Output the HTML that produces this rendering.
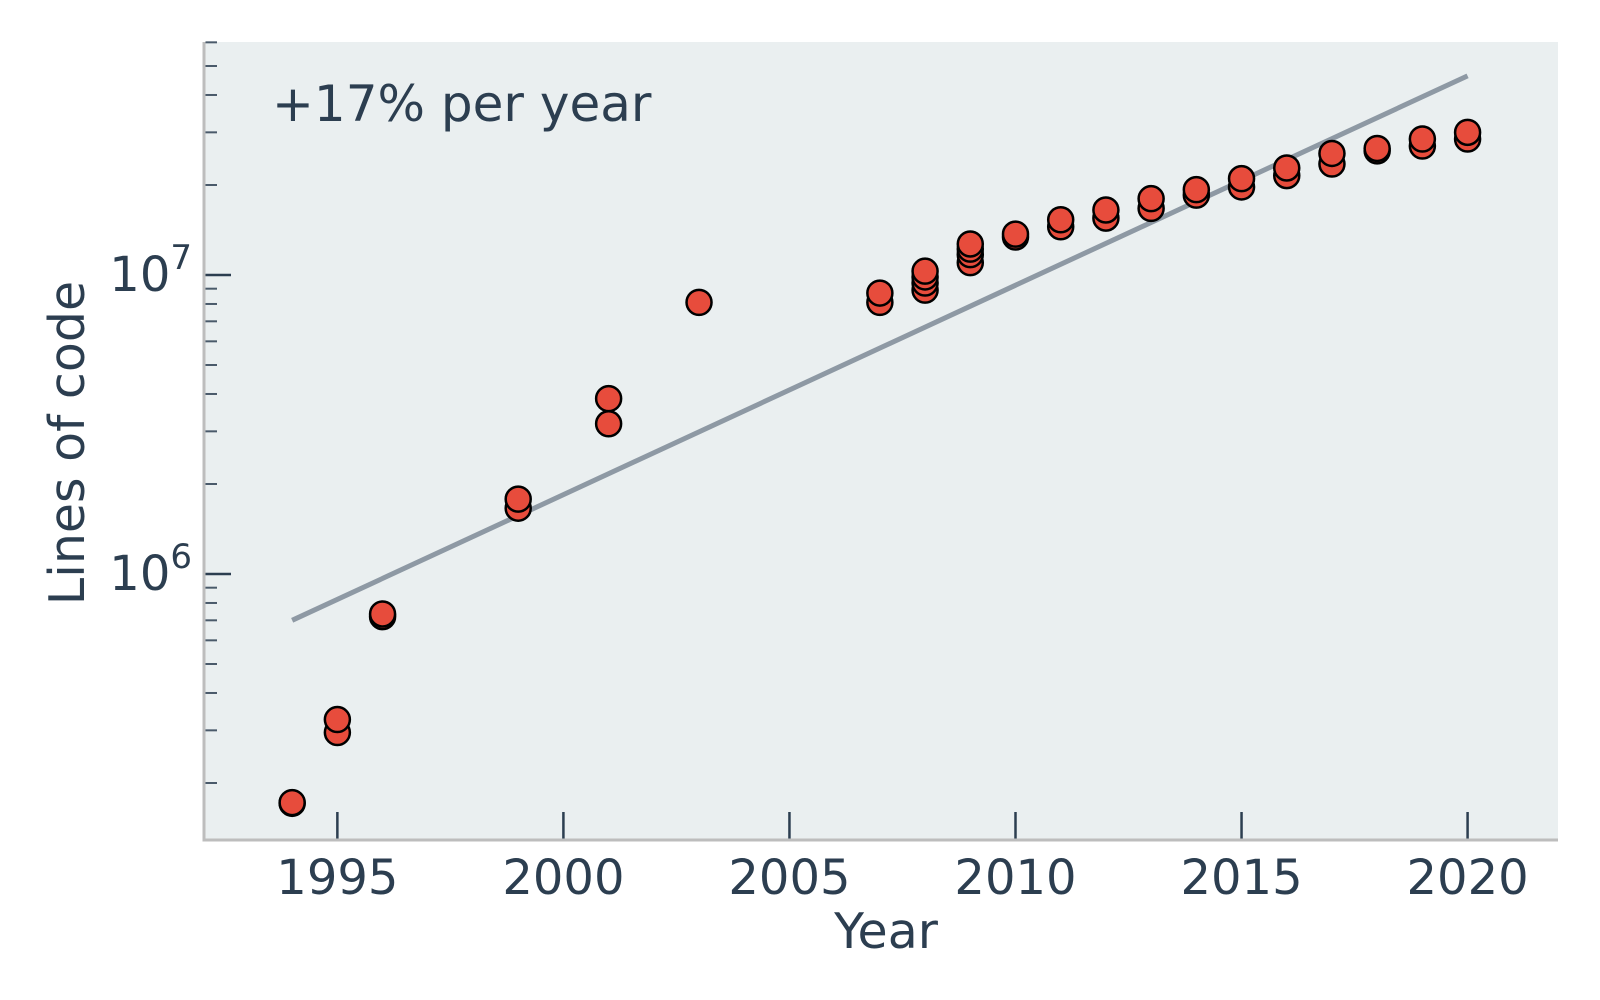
<!DOCTYPE html>
<html><head><meta charset="utf-8"><style>
html,body{margin:0;padding:0;background:#fff;}
svg{display:block;font-family:"DejaVu Sans","Liberation Sans",sans-serif;}
</style></head><body>
<svg id="chart" width="1600" height="1000" viewBox="0 0 1600 1000">
<rect x="0" y="0" width="1600" height="1000" fill="#fff"/>
<rect id="plotbg" fill="#eaeff0"/>
<g id="grid"></g>
<g id="fitg"></g>
<g id="pts"></g>
<g id="axes"></g>
<text x="272" y="121" font-size="50" fill="#2c3e50">+17% per year</text>
<text x="886" y="948" font-size="49" fill="#2c3e50" text-anchor="middle">Year</text>
<text transform="translate(84,443) rotate(-90)" font-size="49" fill="#2c3e50" text-anchor="middle">Lines of code</text>
</svg>
<script>
const years = [1994,1994,1995,1995,1996,1996,1999,1999,2001,2001,2003,2007,2007,2008,2008,2008,2008,2009,2009,2009,2009,2010,2010,2011,2011,2012,2012,2013,2013,2014,2014,2015,2015,2016,2016,2017,2017,2018,2018,2019,2019,2020,2020];
const lines = [1.71e5,1.72e5,2.95e5,3.26e5,7.2e5,7.35e5,1.66e6,1.78e6,3.18e6,3.86e6,8.1e6,8.1e6,8.7e6,8.9e6,9.4e6,9.85e6,1.03e7,1.10e7,1.17e7,1.22e7,1.27e7,1.34e7,1.37e7,1.45e7,1.53e7,1.55e7,1.65e7,1.67e7,1.80e7,1.85e7,1.93e7,1.97e7,2.10e7,2.15e7,2.28e7,2.35e7,2.55e7,2.6e7,2.65e7,2.7e7,2.85e7,2.85e7,3.0e7];
const fitYears = [1994,2020];
const fitStart = 7.0e5;
const fitRate = 0.175;
const xTicks = [1995,2000,2005,2010,2015,2020];
const yMajor = [1e6,1e7];
const yMinorMult = [2,3,4,5,6,7,8,9];

const L=204,R=1558,T=42,B=840;
const xMin=1992.05,xMax=2022.0;
const y7=275,dec=299;
function X(v){return L+(v-xMin)/(xMax-xMin)*(R-L);}
function Y(v){return y7-(Math.log10(v)-7)*dec;}
const NS="http://www.w3.org/2000/svg";
function mk(tag,attrs,parent){const e=document.createElementNS(NS,tag);for(const k in attrs)e.setAttribute(k,attrs[k]);parent.appendChild(e);return e;}
const bg=document.getElementById('plotbg');
bg.setAttribute('x',L);bg.setAttribute('y',T);bg.setAttribute('width',R-L);bg.setAttribute('height',B-T);

const fg=document.getElementById('fitg');
const fl=mk('line',{x1:X(fitYears[0]),y1:Y(fitStart),x2:X(fitYears[1]),y2:Y(fitStart*Math.pow(1+fitRate,fitYears[1]-fitYears[0])),stroke:'#8e99a4','stroke-width':5},fg);



const pg=document.getElementById('pts');
years.forEach((yr,i)=>{
  const c=mk('circle',{cx:X(yr),cy:Y(lines[i]),r:12.5,fill:'#e74c3c',stroke:'#000','stroke-width':2.5},pg);
  
  
});

const ax=document.getElementById('axes');
const ls=mk('line',{x1:L,y1:T,x2:L,y2:B+1.5,stroke:'#bdbdbd','stroke-width':3},ax);


const bs=mk('line',{x1:L-1.5,y1:B,x2:R,y2:B,stroke:'#bdbdbd','stroke-width':3},ax);


xTicks.forEach(t=>{
  const tk=mk('line',{x1:X(t),y1:B-1.5,x2:X(t),y2:B-28,stroke:'#2c3e50','stroke-width':2.5},ax);
  
  
  const tx=mk('text',{x:X(t),y:B+54,'font-size':48,fill:'#2c3e50','text-anchor':'middle'},ax);
  tx.textContent=t;
  
  
});
yMajor.forEach(v=>{
  const tk=mk('line',{x1:L+1.5,y1:Y(v),x2:L+27,y2:Y(v),stroke:'#2c3e50','stroke-width':2.5},ax);
  
  
  const tx=mk('text',{x:L-12,y:Y(v)+16,'font-size':48,fill:'#2c3e50','text-anchor':'end'},ax);
  
  
  const e=Math.round(Math.log10(v));
  const a=document.createElementNS(NS,'tspan');a.textContent='10';tx.appendChild(a);
  const b=document.createElementNS(NS,'tspan');b.textContent=e;b.setAttribute('dy','-22');b.setAttribute('font-size','34');tx.appendChild(b);
});
[1e5,1e6,1e7].forEach(base=>{
  yMinorMult.forEach(m=>{
    const v=base*m,y=Y(v);
    if(y<T||y>B)return;
    const tk=mk('line',{x1:L+1.5,y1:y,x2:L+13,y2:y,stroke:'#4a5a6a','stroke-width':2},ax);
    
    
  });
});
</script>
</body></html>
